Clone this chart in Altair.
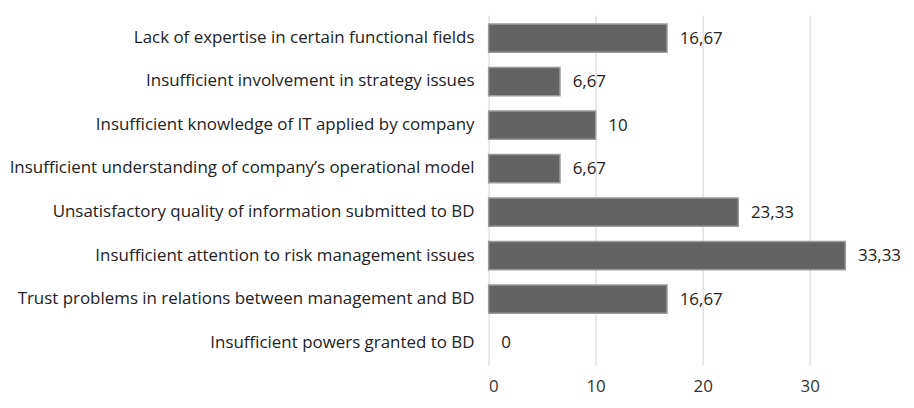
import altair as alt
import pandas as pd

categories = [
    "Lack of expertise in certain functional fields",
    "Insufficient involvement in strategy issues",
    "Insufficient knowledge of IT applied by company",
    "Insufficient understanding of company\u2019s operational model",
    "Unsatisfactory quality of information submitted to BD",
    "Insufficient attention to risk management issues",
    "Trust problems in relations between management and BD",
    "Insufficient powers granted to BD",
]
values = [16.67, 6.67, 10, 6.67, 23.33, 33.33, 16.67, 0]
labels = ["16,67", "6,67", "10", "6,67", "23,33", "33,33", "16,67", "0"]

df = pd.DataFrame({"cat": categories, "val": values, "lab": labels})

FONT = "Open Sans"
FS = 17.4

y = alt.Y("cat:N", sort=None, title=None,
          scale=alt.Scale(paddingInner=0.35, paddingOuter=0.2),
          axis=alt.Axis(labelFont=FONT, labelFontSize=FS, labelColor="#222222",
                        labelLimit=700, labelPadding=15, ticks=False, domain=False, grid=False))
x = alt.X("val:Q", title=None,
          scale=alt.Scale(domain=[0, 35], nice=False),
          axis=alt.Axis(values=[0, 10, 20, 30], labelFont=FONT, labelFontSize=FS,
                        labelColor="#333333", labelPadding=13, ticks=False, domain=False,
                        grid=True, gridColor="#d9d9d9", gridWidth=1.2))

bars = alt.Chart(df).transform_filter("datum.val > 0").mark_bar(
    color="#636363", stroke="#9a9a9a", strokeWidth=1.5).encode(x=x, y=y)
text = alt.Chart(df).mark_text(align="left", dx=13, dy=1, font=FONT, fontSize=FS, color="#222222").encode(
    x="val:Q", y=alt.Y("cat:N", sort=None), text="lab:N")

chart = (bars + text).properties(
    width=385, height=360, background="white",
    padding={"left": 0, "top": 2, "right": 5, "bottom": -1},
).configure_view(stroke="transparent", strokeWidth=0)
chart.save("out.html", embed_options={"renderer": "svg", "actions": False})
